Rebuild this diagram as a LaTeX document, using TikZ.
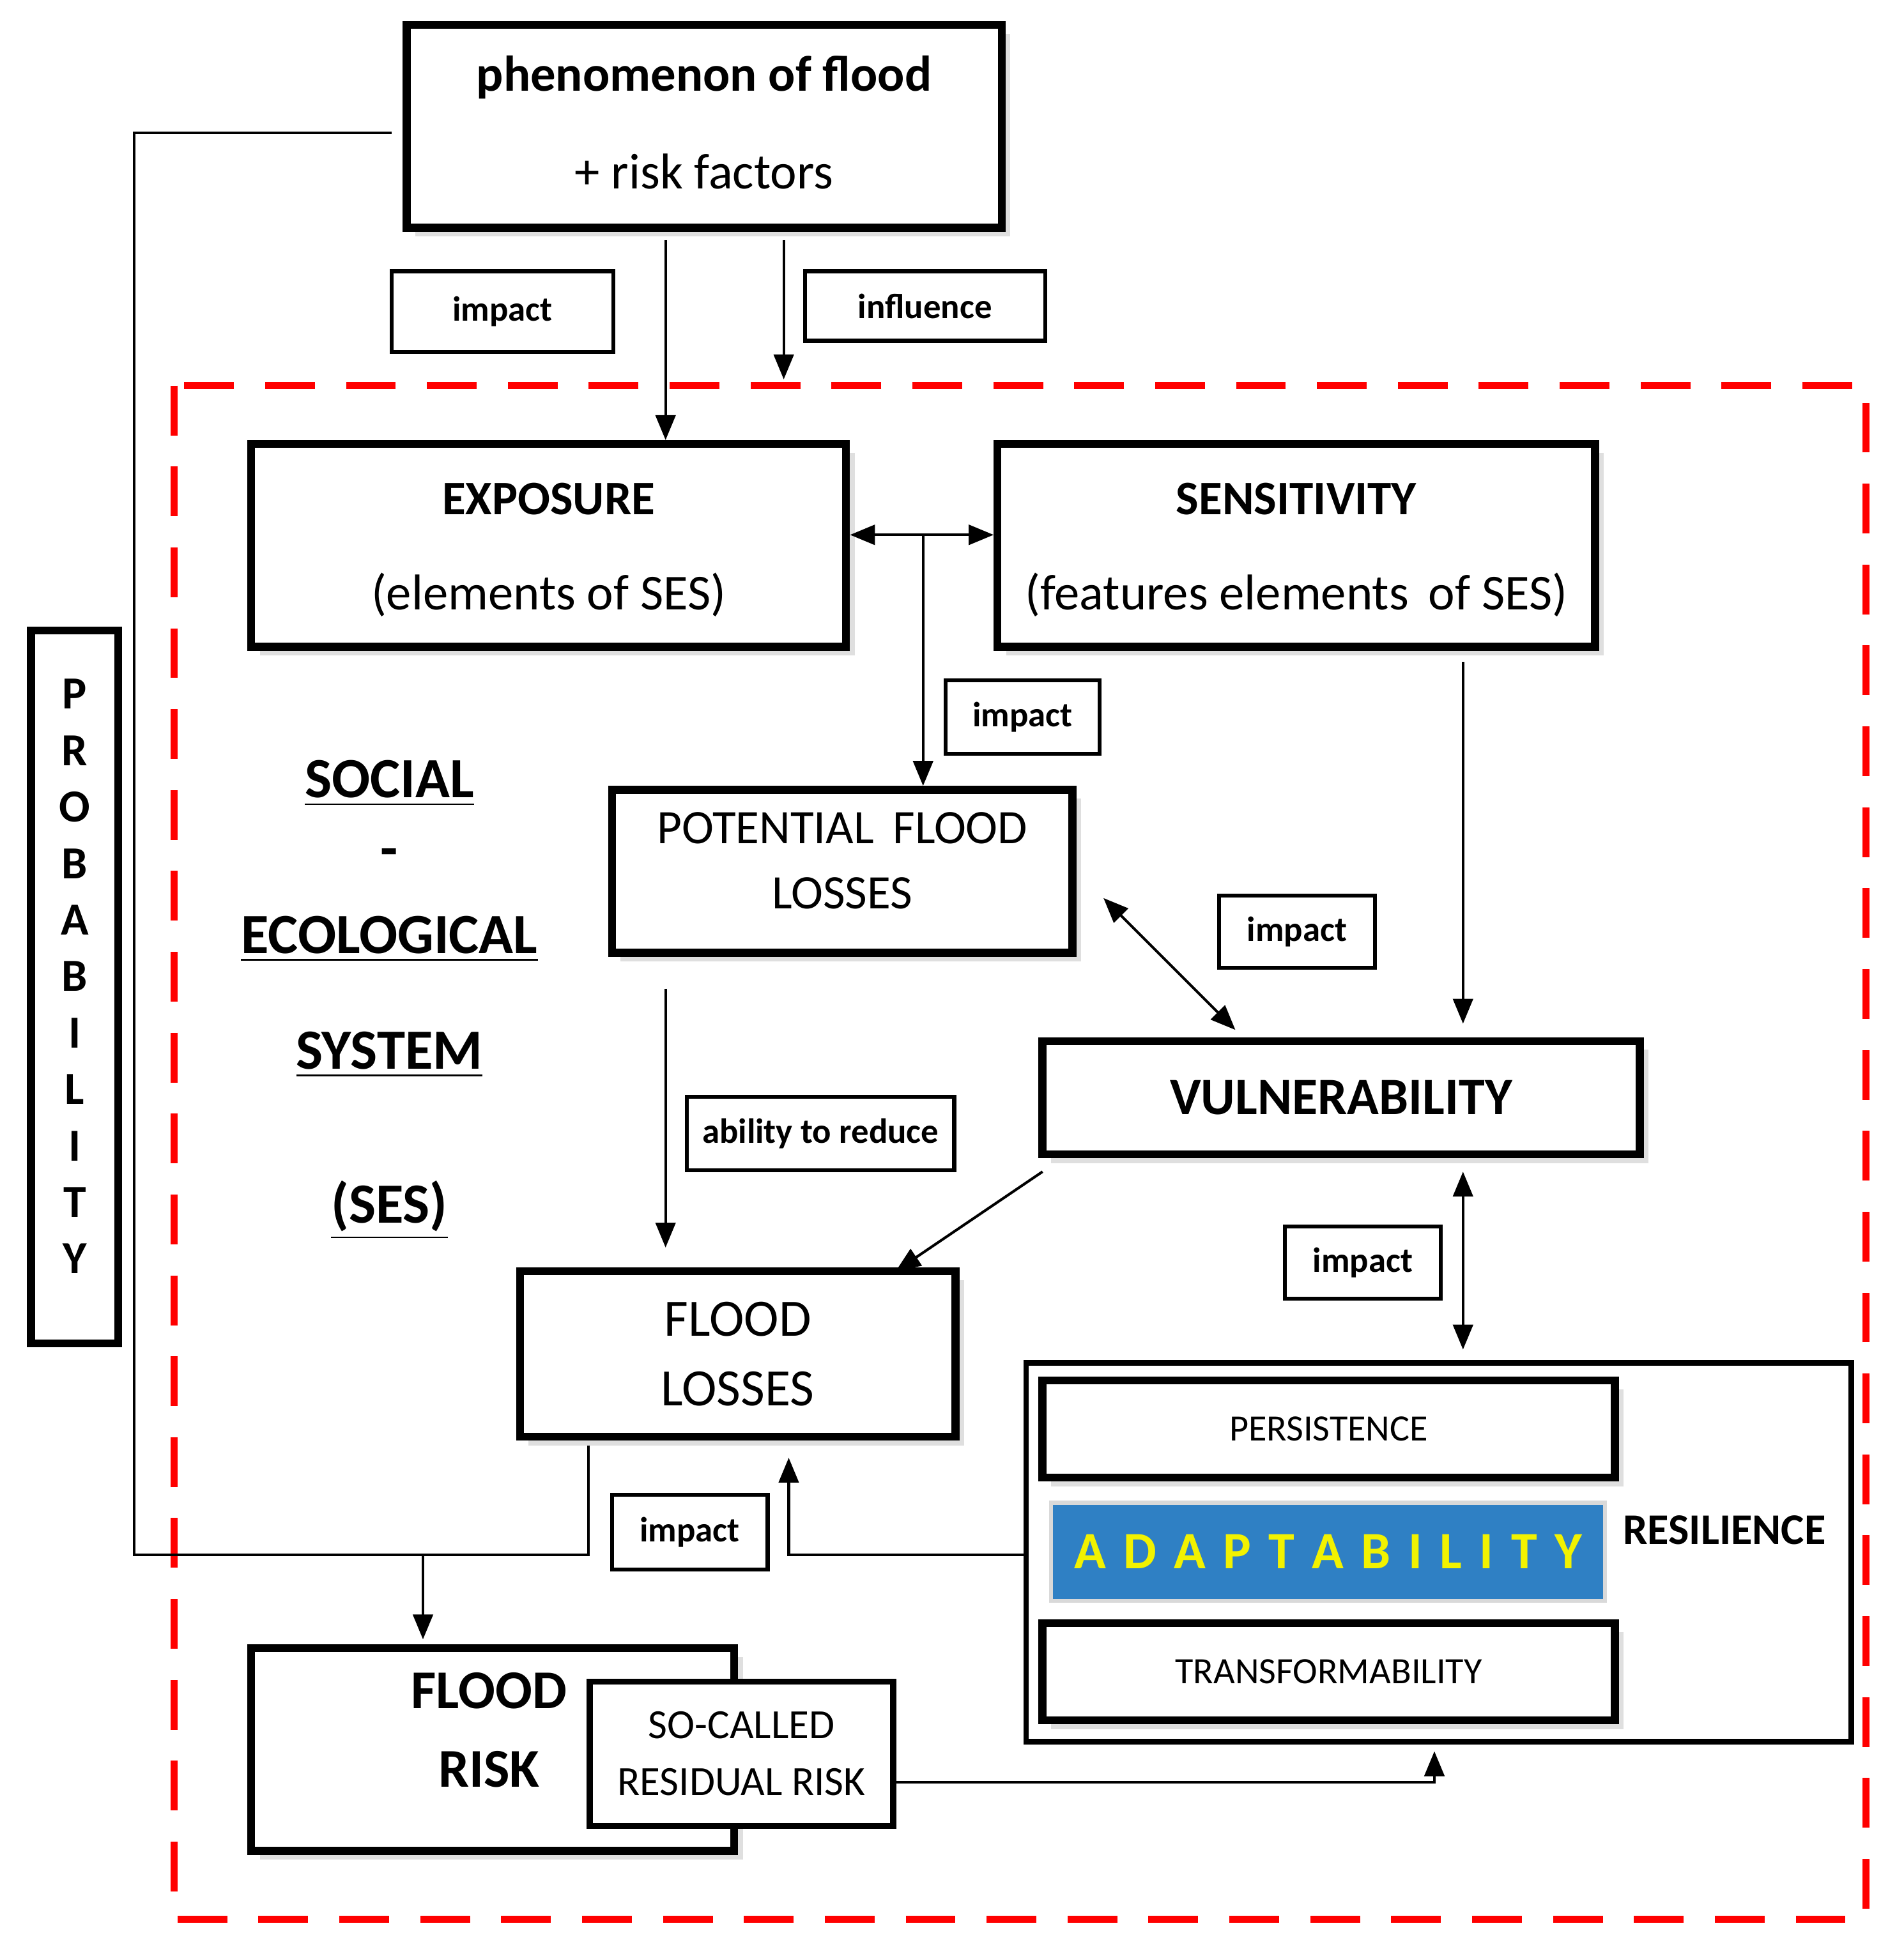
\documentclass[tikz,border=0pt]{standalone}
\usepackage{fontspec}
\setmainfont{Carlito}
\usetikzlibrary{arrows.meta,shadows}
\definecolor{adblue}{HTML}{2F80C4}
\definecolor{adyel}{HTML}{F2F200}
\begin{document}
\begin{tikzpicture}[x=0.01cm,y=-0.01cm,
  box/.style={draw,line width=1.8pt,fill=white,inner sep=0,drop shadow={opacity=0.25,shadow xshift=2pt,shadow yshift=-2pt}},
  sbox/.style={draw,line width=0.9pt,fill=white,inner sep=0,font=\fontsize{8}{10}\selectfont\bfseries},
  txt/.style={inner sep=0,align=center},
  ln/.style={line width=0.6pt},
  arr/.style={ln,-{Triangle[length=0.2cm,width=0.16cm]}},
  darr/.style={ln,{Triangle[length=0.2cm,width=0.16cm]}-{Triangle[length=0.2cm,width=0.16cm]}},
  ses/.style={txt,font=\fontsize{13}{15}\selectfont\bfseries}]
\useasboundingbox (0,0) rectangle (1530,1572.6);
\draw[red,line width=1.6pt,dash pattern=on 0.4cm off 0.25cm] (140,310) rectangle (1500,1543);
\node[box,minimum width=4.78cm,minimum height=1.63cm] (top) at (566,101.5) {};
\node[txt,font=\fontsize{11.5}{13}\selectfont\bfseries] (t1) at (566,62) {phenomenon of flood};
\node[txt,font=\fontsize{11.5}{13}\selectfont] (t2) at (566,138) {+ risk factors};
\node[sbox,minimum width=1.78cm,minimum height=0.65cm] (imp1) at (404,250.5) {impact};
\node[sbox,minimum width=1.93cm,minimum height=0.56cm] (infl) at (743.5,246) {influence};
\node[box,minimum width=4.78cm,minimum height=1.63cm] (exp) at (441,438.5) {};
\node[txt,font=\fontsize{11}{13}\selectfont\bfseries] at (441,401) {EXPOSURE};
\node[txt,font=\fontsize{11.5}{13}\selectfont] at (441,478) {(elements of SES)};
\node[box,minimum width=4.80cm,minimum height=1.63cm] (sen) at (1042,438.5) {};
\node[txt,font=\fontsize{11}{13}\selectfont\bfseries] at (1042,401) {SENSITIVITY};
\node[txt,font=\fontsize{11.5}{13}\selectfont] at (1042,478) {(features elements\, of SES)};
\draw[arr] (535,193) -- (exp.north -| 535,0);
\draw[arr] (630,193) -- (630,305);
\draw[darr] (exp.east |- 0,430) -- (sen.west |- 0,430);
\node[sbox,minimum width=1.24cm,minimum height=0.59cm] (imp2) at (822,576.5) {impact};
\node[box,minimum width=3.70cm,minimum height=1.31cm] (pot) at (677,700.5) {};
\node[txt,font=\fontsize{11}{15}\selectfont] at (677,692) {POTENTIAL\, FLOOD\\LOSSES};
\draw[arr] (742,430) -- (pot.north -| 742,0);
\node[sbox,minimum width=1.25cm,minimum height=0.58cm] (imp3) at (1042.5,749) {impact};
\node[box,minimum width=4.80cm,minimum height=0.91cm,font=\fontsize{12}{14}\selectfont\bfseries] (vul) at (1078,882.5) {VULNERABILITY};
\draw[darr] (887,722) -- (993,828);
\draw[arr] (1176,532) -- (1176,823);
\draw[ln,dash pattern=on 2cm off 0.1cm on 0.6cm off 0.15cm] (535,795) -- (535,960);
\draw[arr] (535,955) -- (535,1003);
\node[sbox,minimum width=2.15cm,minimum height=0.59cm] (abl) at (659.5,911.5) {ability to reduce};
\node[box,minimum width=3.50cm,minimum height=1.33cm,align=center,font=\fontsize{12}{16}\selectfont] (fl) at (593,1088.5) {FLOOD\\LOSSES};
\draw[arr] (838,942) -- (720,1022);
\node[sbox,minimum width=1.25cm,minimum height=0.58cm] (imp4) at (1095.5,1015) {impact};
\draw[darr] (1176,942) -- (1176,1085);
\node[draw,line width=1.3pt,minimum width=6.63cm,minimum height=3.04cm,inner sep=0] (res) at (1156.5,1248) {};
\node[box,minimum width=4.60cm,minimum height=0.78cm,font=\fontsize{8.5}{10}\selectfont] (per) at (1068,1149) {PERSISTENCE};
\node[fill=adblue,draw=gray!30,line width=1pt,minimum width=4.45cm,minimum height=0.79cm,inner sep=0,text=adyel,font=\fontsize{12}{14}\selectfont\bfseries] (ada) at (1067.5,1247.5) {A\,\,D\,\,A\,\,P\,\,T\,\,A\,\,B\,\,I\,\,L\,\,I\,\,T\,\,Y};
\node[box,minimum width=4.60cm,minimum height=0.78cm,font=\fontsize{8.5}{10}\selectfont] (tra) at (1068,1344) {TRANSFORMABILITY};
\node[txt,font=\fontsize{10}{12}\selectfont\bfseries] (rl) at (1386,1230) {RESILIENCE};
\draw[arr] (res.west |- 0,1250) -- (634,1250) -- (634,1172);
\node[sbox,minimum width=1.25cm,minimum height=0.60cm] (imp5) at (554.5,1232) {impact};
\draw[ln] (473,1162) -- (473,1250) -- (108,1250) -- (108,107) -- (315,107);
\draw[arr] (340,1250) -- (340,1318);
\node[box,minimum width=3.88cm,minimum height=1.63cm] (fr) at (396,1406.5) {};
\node[txt,font=\fontsize{12.5}{18}\selectfont\bfseries] at (393,1391) {FLOOD\\RISK};
\node[draw,line width=1.4pt,fill=white,minimum width=2.44cm,minimum height=1.16cm,inner sep=0,align=center,font=\fontsize{9.5}{13}\selectfont] (so) at (596,1410) {SO-CALLED\\RESIDUAL RISK};
\draw[arr] (so.east |- 0,1433) -- (1153,1433) -- (1153,1408);
\node[draw,line width=1.8pt,minimum width=0.70cm,minimum height=5.73cm,inner sep=0] (prob) at (60,793.5) {};
\foreach \l [count=\i] in {P,R,O,B,A,B,I,L,I,T,Y}
  \node[txt,font=\fontsize{10.5}{12}\selectfont\bfseries] at (60,{558+(\i-1)*45.4}) {\l};
\node[ses] at (313,630) {\underline{SOCIAL}};
\node[ses] at (313,690) {-};
\node[ses] at (313,755) {\underline{ECOLOGICAL}};
\node[ses] at (313,848) {\underline{SYSTEM}};
\node[ses] at (313,973) {\underline{(SES)}};
\end{tikzpicture}
\end{document}
